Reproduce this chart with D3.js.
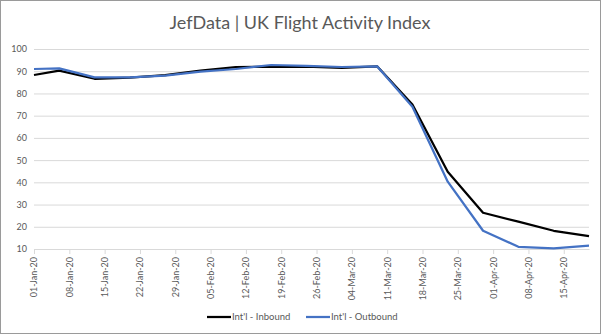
<!DOCTYPE html>
<html>
<head>
<meta charset="utf-8">
<script src="https://cdn.jsdelivr.net/npm/d3@7"></script>
<style>
  body { margin: 0; background: #fff; }
  text { font-family: Lato, "Open Sans", sans-serif; fill: #595959; }
</style>
</head>
<body>
<div id="chart"></div>
<script>
// weekly readings (first point is 1 Jan, then Mondays)
const dates = ["2020-01-01", "2020-01-06", "2020-01-13", "2020-01-20", "2020-01-27",
    "2020-02-03", "2020-02-10", "2020-02-17", "2020-02-24", "2020-03-02", "2020-03-09",
    "2020-03-16", "2020-03-23", "2020-03-30", "2020-04-06", "2020-04-13", "2020-04-20"];
const inbound = [88.3, 90.3, 86.6, 87.1, 88.2, 90.3, 91.8, 92.0, 92.1, 91.5, 92.2,
    75.0, 44.8, 26.3, 22.3, 18.2, 15.8];
const outbound = [91.0, 91.3, 87.2, 87.2, 88.0, 89.8, 91.0, 92.8, 92.4, 91.9, 92.2,
    74.0, 40.3, 18.2, 11.0, 10.3, 11.5];
const tickDates = ["2020-01-01", "2020-01-08", "2020-01-15", "2020-01-22", "2020-01-29",
    "2020-02-05", "2020-02-12", "2020-02-19", "2020-02-26", "2020-03-04", "2020-03-11",
    "2020-03-18", "2020-03-25", "2020-04-01", "2020-04-08", "2020-04-15"];
const yTicks = [10, 20, 30, 40, 50, 60, 70, 80, 90, 100];
const seriesNames = ["Int'l - Inbound", "Int'l - Outbound"];
const seriesColors = ["#000000", "#4472C4"];

const width = 602, height = 336;
const parse = d3.utcParse("%Y-%m-%d");
const fmt = d3.utcFormat("%d-%b-%y");

const svg = d3.select("#chart").append("svg")
    .attr("width", width)
    .attr("height", height);

// chart frame
svg.append("rect")
    .attr("x", 0.5).attr("y", 0.5)
    .attr("width", width - 2).attr("height", height - 3)
    .attr("fill", "#fff")
    .attr("stroke", "#9a9a9a");

svg.append("text")
    .attr("x", 300).attr("y", 29)
    .attr("text-anchor", "middle")
    .style("font-size", "18px")
    .text("JefData | UK Flight Activity Index");

let x = d3.scaleUtc()
    .domain([parse("2020-01-01"), parse("2020-04-20")])
    .range([34, 589]);
let y = d3.scaleLinear()
    .domain([10, 100])
    .range([249, 49]);

// gridlines + y labels
let yAxis = d3.axisLeft(y).tickValues(yTicks).tickSize(-(589 - 34)).tickPadding(7);
let gy = svg.append("g")
    .attr("transform", "translate(34,0)")
    .call(yAxis);
gy.select(".domain").remove();
gy.selectAll(".tick line").attr("stroke", "#d9d9d9");
gy.selectAll(".tick text").style("font-size", "9px").attr("fill", "#595959");

// x axis
let xAxis = d3.axisBottom(x).tickValues(tickDates.map(parse)).tickFormat(fmt).tickSize(5).tickSizeOuter(0);
let gx = svg.append("g")
    .attr("transform", "translate(0,249)")
    .call(xAxis);
gx.select(".domain").attr("stroke", "#d9d9d9");
gx.selectAll(".tick line").attr("stroke", "#d9d9d9");
gx.selectAll(".tick text")
    .style("font-size", "9px")
    .attr("fill", "#595959")
    .attr("text-anchor", "end")
    .attr("transform", "rotate(-90)")
    .attr("x", -8).attr("y", 0).attr("dy", "0.32em");

// lines
let line = d3.line()
    .x((d, i) => x(parse(dates[i])))
    .y(d => y(d));

[inbound, outbound].forEach((vals, k) => {
    svg.append("path")
        .datum(vals)
        .attr("fill", "none")
        .attr("stroke", seriesColors[k])
        .attr("stroke-width", 2.25)
        .attr("stroke-linejoin", "round")
        .attr("d", line);
});

// legend
let legendX = [207, 306];
seriesNames.forEach((name, k) => {
    let g = svg.append("g").attr("transform", `translate(${legendX[k]},317)`);
    g.append("line")
        .attr("x1", 0).attr("x2", 24)
        .attr("stroke", seriesColors[k])
        .attr("stroke-width", 2.25);
    g.append("text")
        .attr("x", 25).attr("dy", "0.35em")
        .style("font-size", "9.5px")
        .text(name);
});
</script>
</body>
</html>
